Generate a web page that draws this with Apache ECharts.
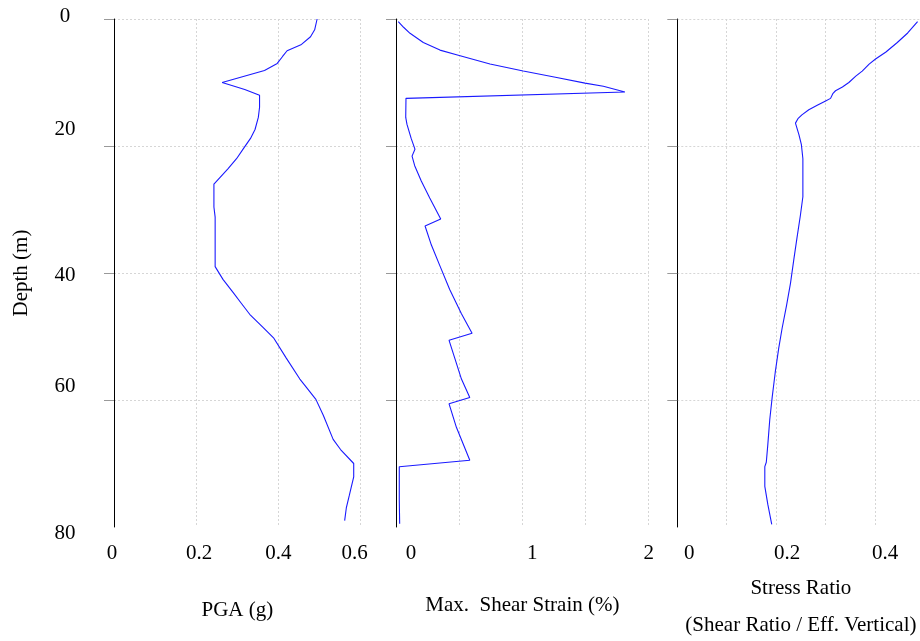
<!DOCTYPE html>
<html>
<head>
<meta charset="utf-8">
<script src="https://cdn.jsdelivr.net/npm/echarts@6/dist/echarts.min.js"></script>
<style>
html,body{margin:0;padding:0;background:#fff;}
#chart{width:920px;height:641px;}
</style>
</head>
<body>
<div id="chart"></div>
<script>
// ---- Data ----
const pgaDepth = [0,1.7,2.8,4.0,5.0,5.9,7.0,8.1,10.0,11.1,12.0,13.9,15.5,17.4,18.8,20.3,22.0,23.6,26.0,29.6,31.2,39.0,41.0,43.1,44.8,46.5,48.6,50.2,53.4,56.7,58.0,59.9,62.4,66.2,67.8,70.0,72.1,75.1,77.0,79.0];
const pgaValue = [0.494,0.488,0.478,0.456,0.421,0.410,0.397,0.366,0.263,0.318,0.354,0.354,0.351,0.343,0.332,0.316,0.298,0.277,0.243,0.243,0.246,0.246,0.265,0.290,0.310,0.330,0.363,0.388,0.419,0.452,0.468,0.491,0.509,0.533,0.551,0.583,0.583,0.572,0.565,0.561];

const strainDepth = [0.4,1.3,2.25,3.7,4.9,5.7,7.1,8.2,9.2,10.1,10.6,11.5,12.5,15.5,16.6,18.8,20.5,21.6,23.1,25.5,28.2,31.5,32.6,35.6,38.8,42.6,46.4,49.5,50.6,53.4,56.7,59.6,60.6,64.3,69.5,70.5,75.7,79.5];
const strainValue = [0.018,0.060,0.111,0.216,0.348,0.493,0.744,1.007,1.272,1.496,1.641,1.812,0.079,0.077,0.087,0.120,0.150,0.127,0.148,0.200,0.267,0.354,0.230,0.280,0.346,0.425,0.518,0.602,0.420,0.465,0.518,0.584,0.420,0.478,0.584,0.026,0.026,0.029];

const srDepth = [0.4,2.2,3.7,5.2,6.3,7.1,8.2,9.0,10.0,10.7,11.3,11.7,12.5,12.9,13.6,14.3,15.1,15.7,16.4,18.2,19.8,22.0,25.3,28.0,30.9,34.5,37.7,41.6,45.1,48.7,51.9,55.7,59.5,63.1,67.1,69.8,70.5,73.6,76.4,79.6];
const srValue = [0.486,0.466,0.445,0.422,0.401,0.388,0.374,0.361,0.347,0.334,0.320,0.315,0.310,0.300,0.283,0.266,0.252,0.244,0.239,0.246,0.251,0.254,0.254,0.254,0.249,0.242,0.236,0.229,0.221,0.212,0.205,0.198,0.192,0.187,0.183,0.180,0.177,0.177,0.183,0.191];

const depthTicks = [0,20,40,60,80];
const pgaTicks = [0,0.2,0.4,0.6];
const strainTicks = [0,1,2];
const srTicks = [0,0.2,0.4];

const xNames = ['PGA (g)', 'Max.  Shear Strain (%)', 'Stress Ratio\n(Shear Ratio / Eff. Vertical)'];
const yName = 'Depth (m)';

// ---- Styling ----
const FONT = 'Liberation Serif, Times New Roman, serif';
const lineColor = '#1a1aff';
const gridLine = {show:true, lineStyle:{color:'#d6d6d6', type:[2,2], width:1}};
// label nudges (pixels, [dx, dy]) per tick label, to follow the reference's hand placement
const pgaNudge = [[-2,0],[3,0],[0,0],[-6,0]];
const strainNudge = [[15,0],[10,0],[0,0]];
const srNudge = [[12,0],[11,0],[10,0]];
const depthNudge = [[0,-3],[0,-17],[0,2],[0,-14],[0,6]];

function pad(n){ // rich padding that shifts a centred token by (dx,dy)
  const dx=n[0], dy=n[1];
  return [dy>0?2*dy:0, dx<0?-2*dx:0, dy<0?-2*dy:0, dx>0?2*dx:0];
}
function nudgedLabel(ticks, nudges, base){
  const rich = {};
  ticks.forEach((t,i)=>{ rich['t'+i] = Object.assign({padding:pad(nudges[i])}, base); });
  return {
    rich: rich,
    formatter: (v)=>{
      let idx = 0, best = Infinity;
      ticks.forEach((t,i)=>{ const d=Math.abs(t-v); if(d<best){best=d; idx=i;} });
      return '{t'+idx+'|'+String(ticks[idx])+'}';
    }
  };
}

function pairs(xs, ys){ return xs.map((v,i)=>[v, ys[i]]); }

const baseText = {fontFamily:FONT, fontSize:21, color:'#000'};

const grids = [
  {left:114, width:246.7, top:19, height:508, outerBoundsMode:'none', containLabel:false},
  {left:396, width:252.7, top:19, height:508, outerBoundsMode:'none', containLabel:false},
  {left:677.3, width:247.2, top:19, height:508, outerBoundsMode:'none', containLabel:false}
];

function yAxis(i){
  const nl = nudgedLabel(depthTicks, depthNudge, baseText);
  return {
    gridIndex:i, type:'value', inverse:true, min:0, max:80, interval:20,
    name: i===0 ? yName : '', nameLocation:'middle', nameGap:82,
    nameTextStyle:baseText,
    axisLine:{show:true, onZero:false, lineStyle:{color:'#000', width:1}},
    axisTick:{show:true, length:10, customValues:[0,20,40,60], lineStyle:{color:'#999', width:1}},
    axisLabel:Object.assign({show:i===0, margin:49, align:'center', customValues: depthTicks}, baseText, nl),
    splitLine:gridLine
  };
}

function xAxis(i, max, interval, labels, nudges, nameGap, lh){
  const nl = nudgedLabel(labels, nudges, baseText);
  return {
    gridIndex:i, type:'value', position:'bottom', min:0, max:max, interval:interval,
    name:xNames[i], nameLocation:'middle', nameGap:nameGap,
    nameTextStyle:Object.assign({lineHeight:lh}, baseText),
    axisLine:{show:false}, axisTick:{show:false},
    axisLabel:Object.assign({show:true, margin:16, customValues: labels}, baseText, nl),
    splitLine:gridLine
  };
}

const option = {
  backgroundColor:'#fff',
  animation:false,
  grid: grids,
  xAxis: [
    xAxis(0, 0.6, 0.2, pgaTicks, pgaNudge, 73, 21),
    xAxis(1, 2, 0.5, strainTicks, strainNudge, 68, 21),
    xAxis(2, 0.5, 0.1, srTicks, srNudge, 43, 37)
  ],
  yAxis: [yAxis(0), yAxis(1), yAxis(2)],
  series: [
    {type:'line', xAxisIndex:0, yAxisIndex:0, data:pairs(pgaValue,pgaDepth), showSymbol:false, lineStyle:{color:lineColor, width:1.1}},
    {type:'line', xAxisIndex:1, yAxisIndex:1, data:pairs(strainValue,strainDepth), showSymbol:false, lineStyle:{color:lineColor, width:1.1}},
    {type:'line', xAxisIndex:2, yAxisIndex:2, data:pairs(srValue,srDepth), showSymbol:false, lineStyle:{color:lineColor, width:1.1}}
  ]
};

const chart = echarts.init(document.getElementById('chart'), null, {renderer:'canvas'});
chart.setOption(option);
</script>
</body>
</html>
